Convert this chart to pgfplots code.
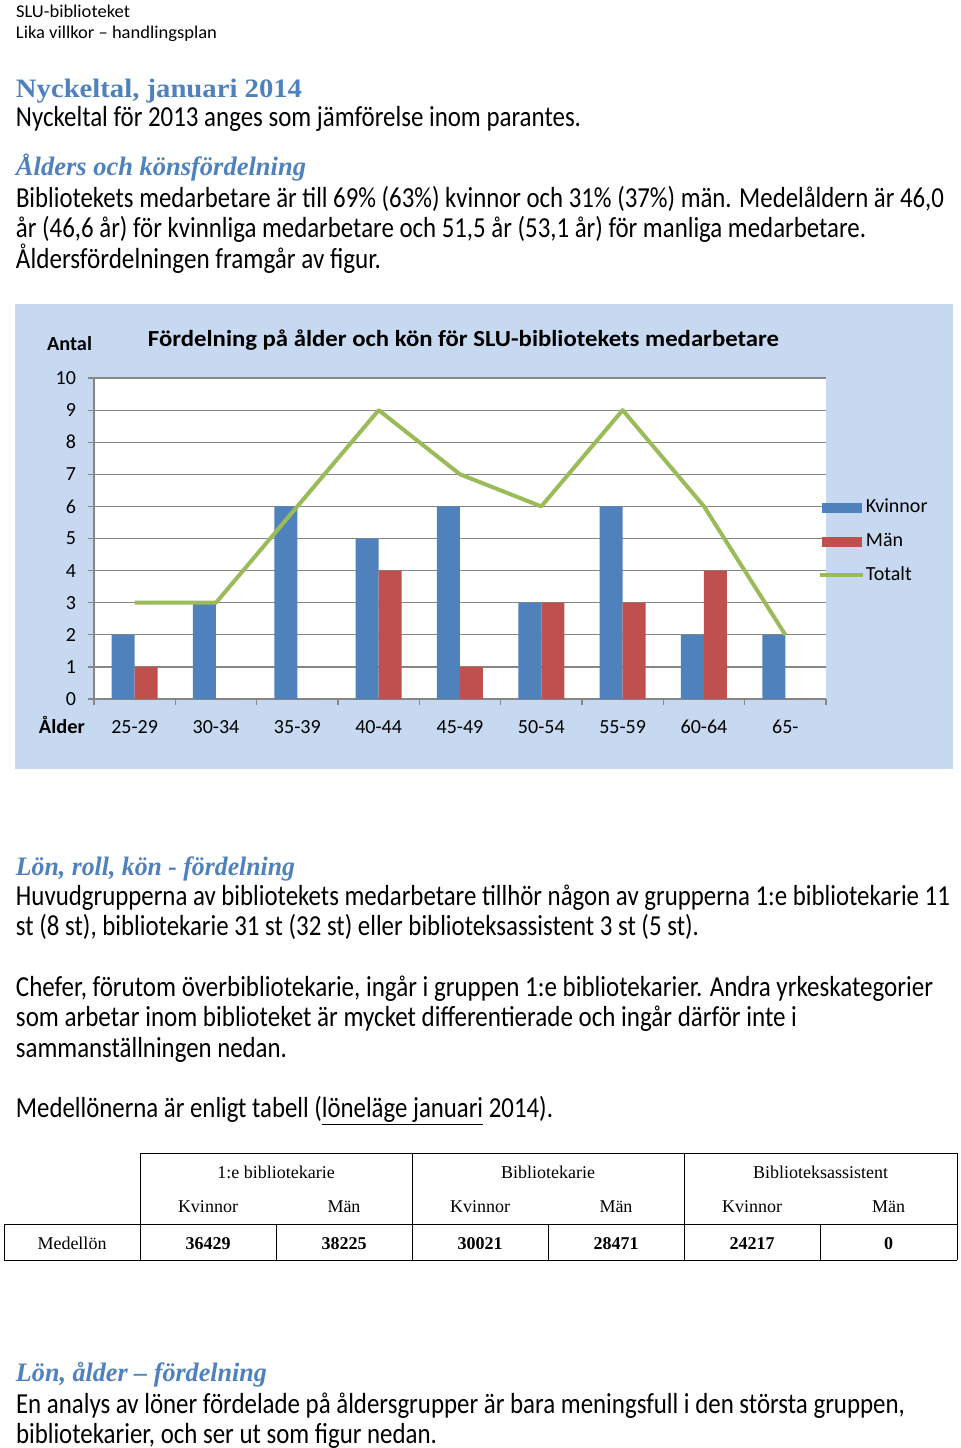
\documentclass[border=0pt]{standalone}
\usepackage{fontspec}
\setmainfont{Carlito}
\newfontfamily\serifrm{Liberation Serif}
\usepackage{graphicx}
\usepackage{pgfplots}
\pgfplotsset{compat=1.18}
\definecolor{headblue}{RGB}{79,129,189}
\definecolor{chartbg}{RGB}{198,217,241}
\definecolor{gridgray}{RGB}{134,134,134}
\definecolor{kv}{RGB}{79,129,189}
\definecolor{ma}{RGB}{192,80,77}
\definecolor{tot}{RGB}{155,187,89}
\newlength\px \setlength\px{0.5pt}
\newcommand\tl[4]{\node[anchor=base west,inner sep=0pt,outer sep=0pt] at (#1,#2) {\resizebox{#3\px}{\height}{#4}};}
\newcommand\body{\fontsize{14.5}{17}\selectfont}
\newcommand\hdr{\fontsize{9}{11}\selectfont}
\newcommand\headA{\serifrm\bfseries\fontsize{13.3}{15}\selectfont\color{headblue}}
\newcommand\headB{\serifrm\bfseries\itshape\fontsize{13.3}{15}\selectfont\color{headblue}}
\newcommand\tabf{\serifrm\fontsize{9}{11}\selectfont}
\begin{document}
\begin{tikzpicture}
\begin{scope}[x=0.5pt,y=-0.5pt]
\path[use as bounding box] (0,0) rectangle (960,1448);
\fill[white] (0,0) rectangle (960,1448);
% header
\tl{16}{17}{114}{\hdr SLU-biblioteket}
\tl{16}{38}{201}{\hdr Lika villkor – handlingsplan}
\tl{16}{97}{286}{\headA Nyckeltal, januari 2014}
\tl{16}{126.5}{565}{\body Nyckeltal för 2013 anges som jämförelse inom parantes.}
\tl{16}{175}{290}{\headB Ålders och könsfördelning}
\tl{16}{207}{928}{\body Bibliotekets medarbetare är till 69\% (63\%) kvinnor och 31\% (37\%) män. Medelåldern är 46,0}
\tl{16}{237.5}{850}{\body år (46,6 år) för kvinnliga medarbetare och 51,5 år (53,1 år) för manliga medarbetare.}
\tl{16}{268}{365}{\body Åldersfördelningen framgår av figur.}
% chart background
\fill[chartbg] (15,304) rectangle (953,769);
\tl{148}{346.7}{631}{\bfseries\fontsize{11.5}{13}\selectfont Fördelning på ålder och kön för SLU-bibliotekets medarbetare}
\tl{47}{350.7}{45}{\bfseries\fontsize{10}{12}\selectfont Antal}
\tl{39}{733}{46}{\bfseries\fontsize{10}{12}\selectfont Ålder}
% section 2
\tl{16}{875}{279}{\headB Lön, roll, kön - fördelning}
\tl{16}{905}{934}{\body Huvudgrupperna av bibliotekets medarbetare tillhör någon av grupperna 1:e bibliotekarie 11}
\tl{16}{935}{683}{\body st (8 st), bibliotekarie 31 st (32 st) eller biblioteksassistent 3 st (5 st).}
\tl{16}{996}{917}{\body Chefer, förutom överbibliotekarie, ingår i gruppen 1:e bibliotekarier. Andra yrkeskategorier}
\tl{16}{1026}{781}{\body som arbetar inom biblioteket är mycket differentierade och ingår därför inte i}
\tl{16}{1057}{271}{\body sammanställningen nedan.}
\tl{16}{1117}{537}{\body Medellönerna är enligt tabell (\underline{löneläge januari} 2014).}
% table
\begin{scope}[line width=0.5pt]
\draw (140,1153) -- (957,1153);
\draw (4,1224) -- (957,1224);
\draw (4,1260) -- (957,1260);
\foreach \xx in {140,412,684,957} \draw (\xx,1153) -- (\xx,1260);
\foreach \xx in {4,276,548,820} \draw (\xx,1224) -- (\xx,1260);
\end{scope}
\node[anchor=base,inner sep=0pt] at (276,1178) {\tabf 1:e bibliotekarie};
\node[anchor=base,inner sep=0pt] at (548,1178) {\tabf Bibliotekarie};
\node[anchor=base,inner sep=0pt] at (820.5,1178) {\tabf Biblioteksassistent};
\foreach \xx/\tt in {208/Kvinnor,344/Män,480/Kvinnor,616/Män,752/Kvinnor,888.5/Män}
  \node[anchor=base,inner sep=0pt] at (\xx,1212) {\tabf \tt};
\node[anchor=base,inner sep=0pt] at (72,1249.5) {\tabf Medellön};
\foreach \xx/\tt in {208/36429,344/38225,480/30021,616/28471,752/24217,888.5/0}
  \node[anchor=base,inner sep=0pt] at (\xx,1249.5) {\tabf\bfseries \tt};
% section 3
\tl{16}{1381.5}{251}{\headB Lön, ålder – fördelning}
\tl{16}{1413}{889}{\body En analys av löner fördelade på åldersgrupper är bara meningsfull i den största gruppen,}
\tl{16}{1443}{421}{\body bibliotekarier, och ser ut som figur nedan.}
\end{scope}
\begin{axis}[
  at={(47pt,-349.5pt)}, anchor=south west,
  scale only axis, width=366pt, height=160.5pt,
  xmin=-0.5, xmax=8.5, ymin=0, ymax=10,
  axis background/.style={fill=white},
  axis x line*=bottom, axis y line*=left,
  axis line style={draw=gridgray, line width=0.6pt},
  every tick/.style={draw=gridgray, line width=0.6pt},
  tick align=outside, major tick length=3pt,
  ytick={0,1,...,10},
  ymajorgrids, major grid style={draw=gridgray, line width=0.6pt},
  xtick={-0.5,0.5,1.5,2.5,3.5,4.5,5.5,6.5,7.5,8.5}, xticklabels={},
  extra x ticks={0,1,...,8},
  extra x tick labels={25-29,30-34,35-39,40-44,45-49,50-54,55-59,60-64,65-},
  extra x tick style={major tick length=0pt},
  ticklabel style={font=\fontsize{10}{12}\selectfont},
  xticklabel style={yshift=-7pt},
  yticklabel style={xshift=-2.5pt},
  /pgf/number format/assume math mode=true,
  legend style={draw=none, fill=none, inner sep=0pt, outer sep=0pt,
    at={(axis description cs:0.989,0.492)}, anchor=west,
    font=\fontsize{10}{12}\selectfont, row sep=6.65pt,
    nodes={inner sep=0pt, text height=8pt, text depth=2.5pt},
    /tikz/every odd column/.append style={column sep=0.5pt}},
  legend cell align=left,
]
\addplot[ybar, bar width=11.5pt, bar shift=-5.75pt, fill=kv, draw=none,
  legend image code/.code={\fill[kv] (-2pt,-3pt) rectangle (18pt,2pt);}]
  coordinates {(0,2) (1,3) (2,6) (3,5) (4,6) (5,3) (6,6) (7,2) (8,2)};
\addlegendentry{Kvinnor}
\addplot[ybar, bar width=11.5pt, bar shift=5.75pt, fill=ma, draw=none,
  legend image code/.code={\fill[ma] (-2pt,-3pt) rectangle (18pt,2pt);}]
  coordinates {(0,1) (1,0) (2,0) (3,4) (4,1) (5,3) (6,3) (7,4) (8,0)};
\addlegendentry{Män}
\addplot[tot, line width=2pt, line join=round, mark=none,
  legend image code/.code={\draw[tot, line width=2pt] (-3pt,0.3pt) -- (18.5pt,0.3pt);}]
  coordinates {(0,3) (1,3) (2,6) (3,9) (4,7) (5,6) (6,9) (7,6) (8,2)};
\addlegendentry{Totalt}
\end{axis}
\end{tikzpicture}
\end{document}
